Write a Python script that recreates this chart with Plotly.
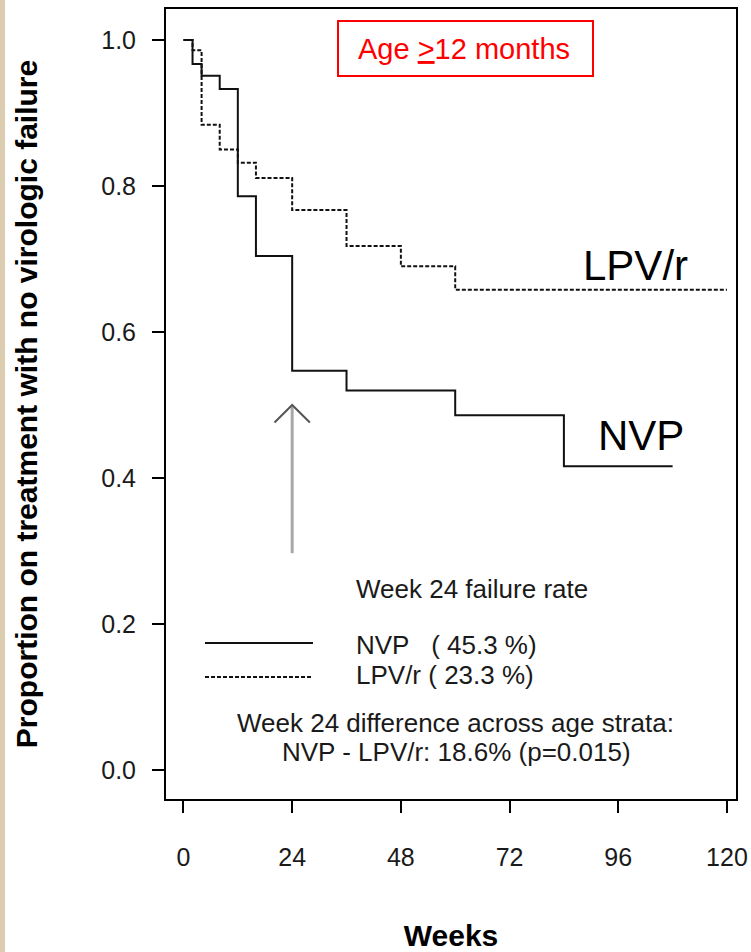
import plotly.graph_objects as go

# ---------------- data ----------------
nvp_weeks = [0, 2, 4, 8, 12, 16, 24, 36, 60, 84, 108]
nvp_surv = [1.0, 0.967, 0.951, 0.933, 0.786, 0.704, 0.547, 0.520, 0.486, 0.416, 0.416]

lpv_weeks = [0, 2, 4, 8, 12, 16, 24, 36, 48, 60, 120]
lpv_surv = [1.0, 0.986, 0.884, 0.850, 0.832, 0.811, 0.767, 0.718, 0.690, 0.658, 0.658]

x_ticks = [0, 24, 48, 72, 96, 120]
y_ticks = [0.0, 0.2, 0.4, 0.6, 0.8, 1.0]
y_tick_labels = ["0.0", "0.2", "0.4", "0.6", "0.8", "1.0"]

groups = ["NVP", "LPV/r"]
week24_failure = ["45.3", "23.3"]
difference_text = "NVP - LPV/r: 18.6% (p=0.015)"
subset_label = "Age <span style='text-decoration:underline'>&gt;</span>12 months"

arrow_week = 24
arrow_from = 0.297
arrow_to = 0.500

# ---------------- layout helpers ----------------
W, H = 751, 952
ML, MR, MT, MB = 166, 15, 9, 153
PW, PH = W - ML - MR, H - MT - MB
FONT = "Liberation Sans, Arial, Helvetica, sans-serif"


def px_x(px):
    return (px - ML) / PW


def px_y(py):
    return (H - MB - py) / PH


fig = go.Figure()

fig.add_trace(go.Scatter(
    x=nvp_weeks, y=nvp_surv, mode="lines", line_shape="hv",
    line=dict(color="#111111", width=2), name=groups[0]))
fig.add_trace(go.Scatter(
    x=lpv_weeks, y=lpv_surv, mode="lines", line_shape="hv",
    line=dict(color="#111111", width=2, dash="4px,2px"), name=groups[1]))

shapes = []
# beige strip on the left edge
shapes.append(dict(type="rect", xref="paper", yref="paper",
                   x0=px_x(0), x1=px_x(5), y0=px_y(H), y1=px_y(0),
                   fillcolor="#dccdb0", line=dict(width=0), layer="below"))
# arrow at week 24
shapes.append(dict(type="line", xref="x", yref="y",
                   x0=arrow_week, x1=arrow_week, y0=arrow_from, y1=arrow_to - 0.002,
                   line=dict(color="#a8a8a8", width=3)))
dxw, dyv = 3.9, 0.024
shapes.append(dict(type="path", xref="x", yref="y",
                   path=f"M{arrow_week - dxw},{arrow_to - dyv} L{arrow_week},{arrow_to} L{arrow_week + dxw},{arrow_to - dyv}",
                   line=dict(color="#555555", width=2)))
# red subset box
shapes.append(dict(type="rect", xref="paper", yref="paper",
                   x0=px_x(338), x1=px_x(593), y0=px_y(76), y1=px_y(21),
                   line=dict(color="#ff0000", width=2), fillcolor="rgba(0,0,0,0)"))
# legend line samples
shapes.append(dict(type="line", xref="paper", yref="paper",
                   x0=px_x(205), x1=px_x(313), y0=px_y(643), y1=px_y(643),
                   line=dict(color="#111111", width=2)))
shapes.append(dict(type="line", xref="paper", yref="paper",
                   x0=px_x(205), x1=px_x(313), y0=px_y(677), y1=px_y(677),
                   line=dict(color="#111111", width=2, dash="4px,2px")))

NB = "\u00a0"
LEG = 26
annotations = [
    dict(text=subset_label, xref="paper", yref="paper", x=px_x(464), y=px_y(49),
         xanchor="center", yanchor="middle", showarrow=False,
         font=dict(family=FONT, size=29, color="#ff0000")),
    dict(text=groups[1], xref="paper", yref="paper", x=px_x(581), y=px_y(266),
         xanchor="left", yanchor="middle", showarrow=False,
         font=dict(family=FONT, size=42, color="#000000")),
    dict(text=groups[0], xref="paper", yref="paper", x=px_x(596), y=px_y(435),
         xanchor="left", yanchor="middle", showarrow=False,
         font=dict(family=FONT, size=42, color="#000000")),
    dict(text="Week 24 failure rate", xref="paper", yref="paper", x=px_x(354), y=px_y(589),
         xanchor="left", yanchor="middle", showarrow=False,
         font=dict(family=FONT, size=LEG, color="#1a1a1a")),
    dict(text=f"{groups[0]}{NB*3}( {week24_failure[0]} %)", xref="paper", yref="paper",
         x=px_x(354), y=px_y(645), xanchor="left", yanchor="middle", showarrow=False,
         font=dict(family=FONT, size=LEG, color="#1a1a1a")),
    dict(text=f"{groups[1]} ( {week24_failure[1]} %)", xref="paper", yref="paper",
         x=px_x(354), y=px_y(675), xanchor="left", yanchor="middle", showarrow=False,
         font=dict(family=FONT, size=LEG, color="#1a1a1a")),
    dict(text="Week 24 difference across age strata:", xref="paper", yref="paper",
         x=px_x(455), y=px_y(723), xanchor="center", yanchor="middle", showarrow=False,
         font=dict(family=FONT, size=LEG, color="#1a1a1a")),
    dict(text=difference_text, xref="paper", yref="paper",
         x=px_x(456), y=px_y(752), xanchor="center", yanchor="middle", showarrow=False,
         font=dict(family=FONT, size=LEG, color="#1a1a1a")),
]

axis_common = dict(showline=True, linecolor="#000000", linewidth=2, mirror=True,
                   ticks="outside", ticklen=12, tickwidth=2, tickcolor="#000000",
                   showgrid=False, zeroline=False, automargin=False,
                   tickfont=dict(family=FONT, size=25, color="#1a1a1a"))

fig.update_layout(
    width=W, height=H,
    margin=dict(l=ML, r=MR, t=MT, b=MB, pad=0),
    paper_bgcolor="white", plot_bgcolor="white",
    showlegend=False,
    font=dict(family=FONT, color="#000000"),
    shapes=shapes, annotations=annotations,
    xaxis=dict(range=[-3.86, 122.0], tickvals=x_ticks, ticklabelstandoff=23,
               title=dict(text="<b>Weeks</b>", standoff=57,
                          font=dict(family=FONT, size=30, color="#000000")),
               **axis_common),
    yaxis=dict(range=[-0.0397, 1.0425], tickvals=y_ticks, ticktext=y_tick_labels,
               ticklabelstandoff=11,
               title=dict(text="<b>Proportion on treatment with no virologic failure</b>",
                          standoff=55, font=dict(family=FONT, size=30, color="#000000")),
               **axis_common),
)

fig.write_html(
    "out.html",
    config={"displayModeBar": False},
    post_script=("document.documentElement.style.overflow='hidden';"
                 "document.body.style.overflow='hidden';"
                 "document.body.style.margin='0px';document.body.style.padding='0px';"),
)
